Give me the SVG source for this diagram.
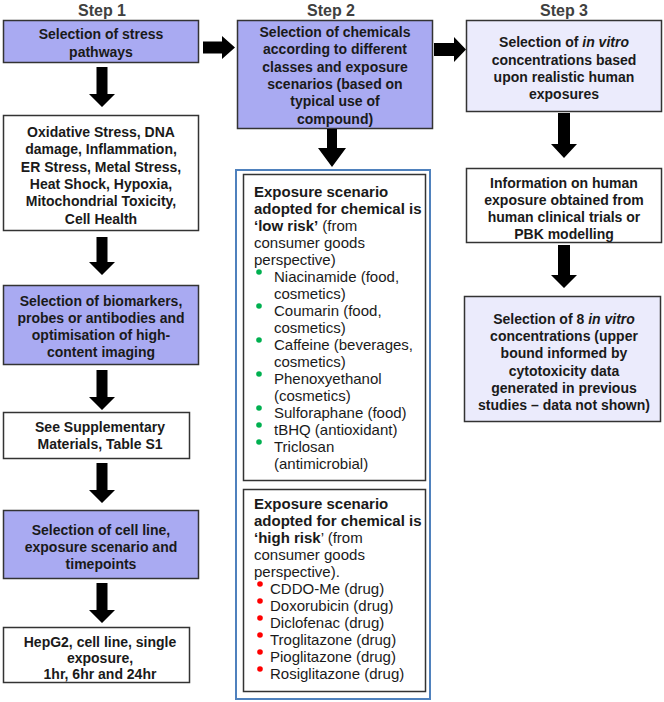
<svg xmlns="http://www.w3.org/2000/svg" width="664" height="702" viewBox="0 0 664 702">
<style>
.bg{fill:#ffffff}
.box{stroke:#333333;stroke-width:1.5}
.lav{fill:#a9aaf2}
.light{fill:#ebebfc}
.white{fill:#ffffff}
.outer{fill:none;stroke:#4f81bd;stroke-width:2}
.t{font-family:"Liberation Sans",Arial,sans-serif;font-size:14px;font-weight:bold;fill:#1a1a1a;text-anchor:middle}
.step{font-family:"Liberation Sans",Arial,sans-serif;font-size:16px;font-weight:bold;fill:#404040;text-anchor:middle}
.l{font-family:"Liberation Sans",Arial,sans-serif;font-size:15px;fill:#1a1a1a}
.b{font-weight:bold}
.arrow{fill:#000000}
.g{fill:#00b050}
.r{fill:#ff0000}
</style>
<rect class="bg" x="0" y="0" width="664" height="702"/>
<text class="step" x="102" y="16">Step 1</text>
<text class="step" x="331" y="16">Step 2</text>
<text class="step" x="564" y="16">Step 3</text>

<g id="n1">
<rect class="box lav" x="3.5" y="20.5" width="195" height="42"/>
<text class="t" x="101" y="39">Selection of stress</text>
<text class="t" x="101" y="57">pathways</text>
</g>
<g id="n2">
<rect class="box white" x="3.5" y="115.5" width="195" height="115"/>
<text class="t" x="101" y="137">Oxidative Stress, DNA</text>
<text class="t" x="101" y="154.3">damage, Inflammation,</text>
<text class="t" x="101" y="171.6">ER Stress, Metal Stress,</text>
<text class="t" x="101" y="188.9">Heat Shock, Hypoxia,</text>
<text class="t" x="101" y="206.2">Mitochondrial Toxicity,</text>
<text class="t" x="101" y="223.5">Cell Health</text>
</g>
<g id="n3">
<rect class="box lav" x="3.5" y="285.5" width="195" height="79"/>
<text class="t" x="101" y="306">Selection of biomarkers,</text>
<text class="t" x="101" y="323">probes or antibodies and</text>
<text class="t" x="101" y="340">optimisation of high-</text>
<text class="t" x="101" y="357">content imaging</text>
</g>
<g id="n4">
<rect class="box white" x="3.5" y="412.5" width="186" height="46"/>
<text class="t" x="100" y="432">See Supplementary</text>
<text class="t" x="100" y="449">Materials, Table S1</text>
</g>
<g id="n5">
<rect class="box lav" x="3.5" y="510.5" width="195" height="68"/>
<text class="t" x="101" y="535">Selection of cell line,</text>
<text class="t" x="101" y="552">exposure scenario and</text>
<text class="t" x="101" y="569">timepoints</text>
</g>
<g id="n6">
<rect class="box white" x="3.5" y="627.5" width="186" height="55"/>
<text class="t" x="100" y="647">HepG2, cell line, single</text>
<text class="t" x="100" y="663">exposure,</text>
<text class="t" x="100" y="679">1hr, 6hr and 24hr</text>
</g>

<g id="s2">
<rect class="box lav" x="237.5" y="20.5" width="195" height="108"/>
<text class="t" x="335" y="37">Selection of chemicals</text>
<text class="t" x="335" y="54.3">according to different</text>
<text class="t" x="335" y="71.6">classes and exposure</text>
<text class="t" x="335" y="88.9">scenarios (based on</text>
<text class="t" x="335" y="106.2">typical use of</text>
<text class="t" x="335" y="123.5">compound)</text>
</g>
<g id="s2list">
<rect class="outer" x="236" y="170" width="194" height="529"/>
<g id="lowrisk">
<rect class="box white" x="243.5" y="174.5" width="182" height="306"/>
<text class="l b" x="254" y="197">Exposure scenario</text>
<text class="l b" x="254" y="214">adopted for chemical is</text>
<text class="l" x="254" y="231"><tspan class="b">‘low risk’</tspan> (from</text>
<text class="l" x="254" y="248">consumer goods</text>
<text class="l" x="254" y="265">perspective)</text>
<circle class="g" cx="259" cy="272" r="2.8"/><text class="l" x="274" y="282">Niacinamide (food,</text>
<text class="l" x="274" y="299">cosmetics)</text>
<circle class="g" cx="259" cy="306" r="2.8"/><text class="l" x="274" y="316">Coumarin (food,</text>
<text class="l" x="274" y="333">cosmetics)</text>
<circle class="g" cx="259" cy="340" r="2.8"/><text class="l" x="274" y="350">Caffeine (beverages,</text>
<text class="l" x="274" y="367">cosmetics)</text>
<circle class="g" cx="259" cy="374" r="2.8"/><text class="l" x="274" y="384">Phenoxyethanol</text>
<text class="l" x="274" y="401">(cosmetics)</text>
<circle class="g" cx="259" cy="408" r="2.8"/><text class="l" x="274" y="418">Sulforaphane (food)</text>
<circle class="g" cx="259" cy="425" r="2.8"/><text class="l" x="274" y="435">tBHQ (antioxidant)</text>
<circle class="g" cx="259" cy="442" r="2.8"/><text class="l" x="274" y="452">Triclosan</text>
<text class="l" x="274" y="469">(antimicrobial)</text>
</g>
<g id="highrisk">
<rect class="box white" x="243.5" y="489.5" width="182" height="202"/>
<text class="l b" x="254" y="509">Exposure scenario</text>
<text class="l b" x="254" y="526">adopted for chemical is</text>
<text class="l" x="254" y="543"><tspan class="b">‘high risk</tspan>’ (from</text>
<text class="l" x="254" y="560">consumer goods</text>
<text class="l" x="254" y="577">perspective).</text>
<circle class="r" cx="260" cy="584" r="2.8"/><text class="l" x="270" y="594">CDDO-Me (drug)</text>
<circle class="r" cx="260" cy="601" r="2.8"/><text class="l" x="270" y="611">Doxorubicin (drug)</text>
<circle class="r" cx="260" cy="618" r="2.8"/><text class="l" x="270" y="628">Diclofenac (drug)</text>
<circle class="r" cx="260" cy="635" r="2.8"/><text class="l" x="270" y="645">Troglitazone (drug)</text>
<circle class="r" cx="260" cy="652" r="2.8"/><text class="l" x="270" y="662">Pioglitazone (drug)</text>
<circle class="r" cx="260" cy="669" r="2.8"/><text class="l" x="270" y="679">Rosiglitazone (drug)</text>
</g>
</g>

<g id="s3a">
<rect class="box light" x="466.5" y="20.5" width="195" height="91"/>
<text class="t" x="564" y="47">Selection of <tspan font-style="italic">in vitro</tspan></text>
<text class="t" x="564" y="64.5">concentrations based</text>
<text class="t" x="564" y="81.5">upon realistic human</text>
<text class="t" x="564" y="98.5">exposures</text>
</g>
<g id="s3b">
<rect class="box white" x="466.5" y="168.5" width="195" height="74"/>
<text class="t" x="564" y="188">Information on human</text>
<text class="t" x="564" y="205">exposure obtained from</text>
<text class="t" x="564" y="222">human clinical trials or</text>
<text class="t" x="564" y="238.5">PBK modelling</text>
</g>
<g id="s3c">
<rect class="box light" x="464.5" y="296.5" width="196" height="125"/>
<text class="t" x="564" y="324">Selection of 8 <tspan font-style="italic">in vitro</tspan></text>
<text class="t" x="564" y="341.2">concentrations (upper</text>
<text class="t" x="564" y="358.4">bound informed by</text>
<text class="t" x="564" y="375.6">cytotoxicity data</text>
<text class="t" x="564" y="392.8">generated in previous</text>
<text class="t" x="564" y="410">studies – data not shown)</text>
</g>

<g id="connectors" class="arrow">
<polygon points="96.5,67 107.5,67 107.5,94 115,94 102,107 89,94 96.5,94"/>
<polygon points="96.5,237 107.5,237 107.5,262 115,262 102,275 89,262 96.5,262"/>
<polygon points="96.5,370 107.5,370 107.5,397 115,397 102,410 89,397 96.5,397"/>
<polygon points="96.5,463 107.5,463 107.5,490 115,490 102,503 89,490 96.5,490"/>
<polygon points="96.5,583 107.5,583 107.5,610 115,610 102,623 89,610 96.5,610"/>
<polygon points="327,129 337,129 337,148 346,148 332,167 318,148 327,148"/>
<polygon points="558,113 570,113 570,144 577,144 564,158 551,144 558,144"/>
<polygon points="558,245 570,245 570,275 577,275 564,288 551,275 558,275"/>
<polygon points="203,41.5 222,41.5 222,36 235,47.5 222,59 222,53.5 203,53.5"/>
<polygon points="434,43 454,43 454,37 466,49.5 454,62 454,56 434,56"/>
</g>
</svg>
